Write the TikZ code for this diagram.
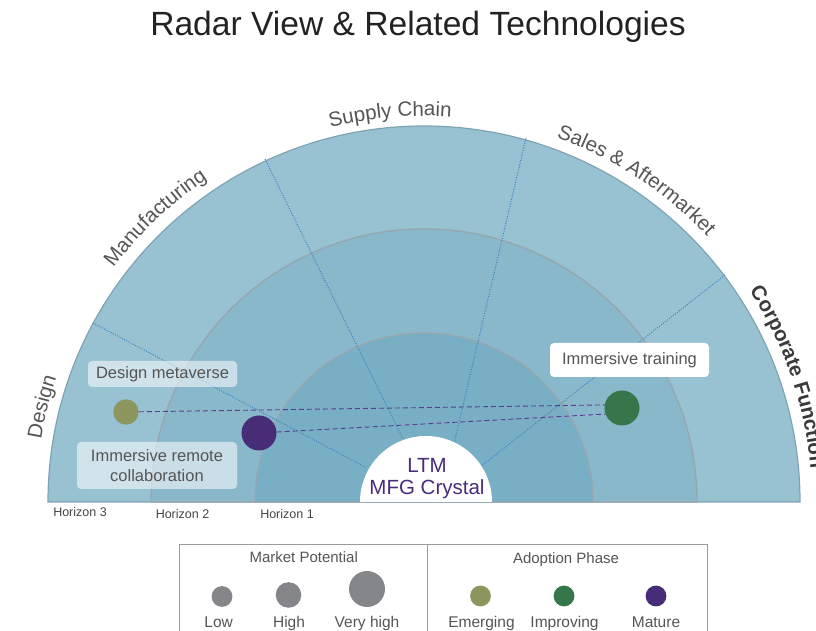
\documentclass[tikz,border=0pt]{standalone}
\usepackage{fontspec}
\setmainfont{Liberation Sans}
\usetikzlibrary{decorations.text}
\definecolor{ringA}{HTML}{98C2D2}
\definecolor{ringB}{HTML}{89B8CB}
\definecolor{ringC}{HTML}{78AFC4}
\definecolor{ringline}{HTML}{96A7B0}
\definecolor{outerline}{HTML}{7FA3B5}
\definecolor{sectorline}{HTML}{3A82C0}
\definecolor{dashpurple}{HTML}{5A3D8F}
\definecolor{olivedot}{HTML}{8E9660}
\definecolor{greendot}{HTML}{35764A}
\definecolor{purpledot}{HTML}{472D78}
\definecolor{graydot}{HTML}{85868A}
\definecolor{txtgray}{HTML}{555555}
\definecolor{hortxt}{HTML}{444444}
\definecolor{corptxt}{HTML}{3A3A3A}
\definecolor{titlegray}{HTML}{222222}
\definecolor{ltmpurple}{HTML}{4A2C7E}
\definecolor{legendline}{HTML}{9A9A9A}
\newcommand\curvefont{\fontsize{20.5}{24}\selectfont}
\newcommand\curvebold{\fontsize{20.5}{24}\selectfont\bfseries}
\begin{document}
\begin{tikzpicture}[x=1pt,y=1pt,
  ring/.style={draw=ringline, line width=1.2pt},
  sector/.style={draw=sectorline, line width=1pt, dash pattern=on 1pt off 1.5pt},
  dot/.style={circle, inner sep=0pt, draw=none},
  link/.style={draw=dashpurple, line width=0.9pt, dash pattern=on 5pt off 3pt},
  tag/.style={rounded corners=4pt, inner sep=0pt, text=txtgray, font=\fontsize{16.5}{20}\selectfont, align=center},
  curved/.style={decorate, decoration={text along path, text align=center, text color=txtgray}},
  hor/.style={anchor=base, text=hortxt, font=\fontsize{12.5}{15}\selectfont},
  legtitle/.style={anchor=base, text=txtgray, font=\fontsize{15}{18}\selectfont},
  leglabel/.style={anchor=base, text=txtgray, font=\fontsize{15.5}{18}\selectfont},
  legline/.style={draw=legendline, line width=1pt}
]
\useasboundingbox (0,0) rectangle (816,631);
\coordinate (C) at (424,129);

% rings
\fill[ringA] (48,129) arc[start angle=180,end angle=0,radius=376] -- cycle;
\draw[outerline, line width=1.2pt] (48,129) arc[start angle=180,end angle=0,radius=376] -- cycle;
\filldraw[ringB, draw=ringline, line width=1.4pt] (151,129) arc[start angle=180,end angle=0,radius=273] -- cycle;
\filldraw[ringC, draw=ringline, line width=1.4pt] (255,129) arc[start angle=180,end angle=0,radius=169] -- cycle;

% sector dividers
\draw[sector] (93,308) -- (367,163);
\draw[sector] (265,472) -- (403,192);
\draw[sector] (526,493) -- (453.9,187.1);
\draw[sector] (725,356) -- (478.7,163.1);

% centre
\fill[white] (360,129) arc[start angle=180,end angle=0,radius=66] -- cycle;
\node[anchor=base, text=ltmpurple, font=\fontsize{20.5}{24}\selectfont] (ltm) at (427,158) {LTM};
\node[anchor=base, text=ltmpurple, font=\fontsize{20.5}{24}\selectfont] (mfg) at (427,136) {MFG Crystal};

% curved labels
\path[shift={(424,129)}, curved, decoration={text={|\curvefont|Design}}] (190:388) arc[start angle=190,end angle=142,radius=388];
\path[shift={(424,129)}, curved, decoration={text={|\curvefont|Manufacturing}}] (160:389) arc[start angle=160,end angle=106.8,radius=389];
\path[shift={(424,129)}, curved, decoration={text={|\curvefont|Supply Chain}}] (125:386) arc[start angle=125,end angle=65,radius=386];
\path[shift={(424,129)}, curved, decoration={text={|\curvefont|Sales {\&} Aftermarket}}] (86.6:388) arc[start angle=86.6,end angle=26.6,radius=388];
\path[shift={(424,129)}, decorate, decoration={text along path, text align=left, text color=corptxt, text={|\curvebold|Corporate Function}}] (33:388) arc[start angle=33,end angle=-25,radius=388];

% horizons
\node[hor] (h3) at (80,114) {Horizon 3};
\node[hor] (h2) at (182.5,112) {Horizon 2};
\node[hor] (h1) at (287,112) {Horizon 1};

% technologies
\node[dot, fill=olivedot, minimum size=25.4pt] (olive) at (126,219) {};
\node[dot, fill=purpledot, minimum size=35pt] (purple) at (259,198) {};
\node[dot, fill=greendot, minimum size=35pt] (green) at (622,223) {};
\draw[link] (olive) -- (green.170);
\draw[link] (purple) -- (green.200);

\node[tag, fill=white, fill opacity=0.55, text opacity=1, minimum width=149pt, minimum height=26pt] (dmbox) at (162.5,257) {Design metaverse};
\node[tag, fill=white, fill opacity=0.55, text opacity=1, minimum width=160pt, minimum height=47pt] (irbox) at (157,165.5) {Immersive remote\\collaboration};
\node[tag, fill=white, minimum width=159pt, minimum height=34pt] (itbox) at (629.5,271) {Immersive training};

% title
\node[anchor=base, text=titlegray, font=\fontsize{33.6}{40}\selectfont] (title) at (418,595) {Radar View \& Related Technologies};

% legend
\draw[legline] (179,-2) -- (179,86) -- (707,86) -- (707,-2);
\draw[legline] (427,86) -- (427,-2);
\node[legtitle] (mp) at (303.7,68) {Market Potential};
\node[legtitle] (ap) at (566,67) {Adoption Phase};
\node[dot, fill=graydot, minimum size=20.8pt] (low) at (222,34.5) {};
\node[dot, fill=graydot, minimum size=25.6pt] (high) at (288.5,36) {};
\node[dot, fill=graydot, minimum size=36pt] (vhigh) at (367,42) {};
\node[dot, fill=olivedot, minimum size=20.8pt] (emerg) at (480.5,35) {};
\node[dot, fill=greendot, minimum size=20.8pt] (improv) at (564,35) {};
\node[dot, fill=purpledot, minimum size=20.8pt] (mature) at (656,35) {};
\node[leglabel] (lowt) at (218.6,3.5) {Low};
\node[leglabel] (hight) at (289,3.5) {High};
\node[leglabel] (vhight) at (367,3.5) {Very high};
\node[leglabel] (emergt) at (481.5,3.5) {Emerging};
\node[leglabel] (improvt) at (564.5,3.5) {Improving};
\node[leglabel] (maturet) at (656,3.5) {Mature};
\end{tikzpicture}
\end{document}
